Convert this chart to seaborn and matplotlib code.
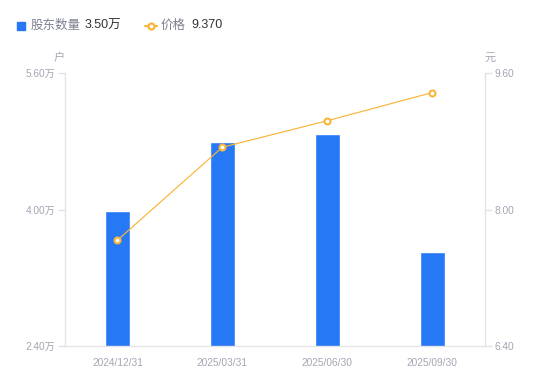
import matplotlib
matplotlib.use("Agg")
import matplotlib.pyplot as plt
import seaborn as sns
import pandas as pd
from matplotlib.patches import Rectangle
from matplotlib.lines import Line2D

dates = ["2024/12/31", "2025/03/31", "2025/06/30", "2025/09/30"]
holders = [3.98, 4.79, 4.89, 3.50]   # 万户
prices = [7.64, 8.73, 9.04, 9.37]    # 元
left_ticks = [2.40, 4.00, 5.60]
right_ticks = [6.40, 8.00, 9.60]

sns.set_theme(style="white")
plt.rcParams['font.family'] = ['Liberation Sans', 'Noto Sans CJK SC', 'DejaVu Sans']

BLUE = "#2778F5"
ORANGE = "#F9B53A"
AXC = "#E3E3E8"
TXT = "#A3A5B3"

df = pd.DataFrame({"date": dates, "holders": holders, "price": prices})

fig = plt.figure(figsize=(5.5, 3.81), dpi=100)
ax = fig.add_axes([65/550, 1-346/381, (484.5-65)/550, (346-73)/381])
sns.barplot(data=df, x="date", y="holders", color=BLUE, width=0.238,
            saturation=1, ax=ax)
ax.set_xlim(-0.5, 3.5)
ax.set_ylim(2.40, 5.60)
ax.set_yticks(left_ticks)
ax.set_yticklabels([f"{v:.2f}万" for v in left_ticks])
ax.set_xlabel("")
ax.set_ylabel("")

ax2 = ax.twinx()
sns.lineplot(data=df, x="date", y="price", color=ORANGE, linewidth=0.85,
             marker="o", markersize=4.3, markerfacecolor="white",
             markeredgecolor=ORANGE, markeredgewidth=1.5, ax=ax2)
ax2.set_ylim(6.40, 9.60)
ax2.set_yticks(right_ticks)
ax2.set_yticklabels([f"{v:.2f}" for v in right_ticks])
ax2.set_ylabel("")
ax2.set_xlim(-0.5, 3.5)

for a in (ax, ax2):
    for s in a.spines.values():
        s.set_visible(False)
    a.grid(False)
ax.spines['left'].set_visible(True)
ax.spines['left'].set_color(AXC)
ax.spines['bottom'].set_visible(True)
ax.spines['bottom'].set_color(AXC)
ax2.spines['right'].set_visible(True)
ax2.spines['right'].set_color(AXC)
for s in ("left", "bottom"):
    ax.spines[s].set_linewidth(1)
ax2.spines['right'].set_linewidth(1)

ax.tick_params(axis='y', left=True, length=5, width=1, color=AXC,
               labelsize=7.3, labelcolor=TXT, pad=2)
ax.tick_params(axis='x', bottom=False, labelsize=7.3, labelcolor=TXT, pad=3)
ax2.tick_params(axis='y', right=True, length=5, width=1, color=AXC,
                labelsize=7.3, labelcolor=TXT, pad=2)

# axis unit labels
fig.text(59/550, 1-58/381, "户", fontsize=8, color=TXT, ha="center", va="center")
fig.text(490/550, 1-58/381, "元", fontsize=8, color=TXT, ha="center", va="center")

# legend
LY = 1 - 25.5/381
fig.patches.append(Rectangle((17/550, LY - 4/381), 8/550, 8/381,
                             transform=fig.transFigure, color=BLUE))
fig.text(31/550, LY, "股东数量", fontsize=9, color="#7E8190", va="center")
fig.text(85/550, LY, f"{holders[-1]:.2f}万", fontsize=9, color="#333333", va="center")
fig.lines.append(Line2D([145/550, 157/550], [LY, LY],
                        transform=fig.transFigure, color=ORANGE, linewidth=1.5))
fig.lines.append(Line2D([151/550], [LY], transform=fig.transFigure,
                        marker="o", markersize=4.3, markerfacecolor="white",
                        markeredgecolor=ORANGE, markeredgewidth=1.6, linestyle=""))
fig.text(161/550, LY, "价格", fontsize=9, color="#7E8190", va="center")
fig.text(191/550, LY, f"{prices[-1]:.3f}", fontsize=9, color="#333333", va="center")

fig.savefig("out.png", dpi=100)
